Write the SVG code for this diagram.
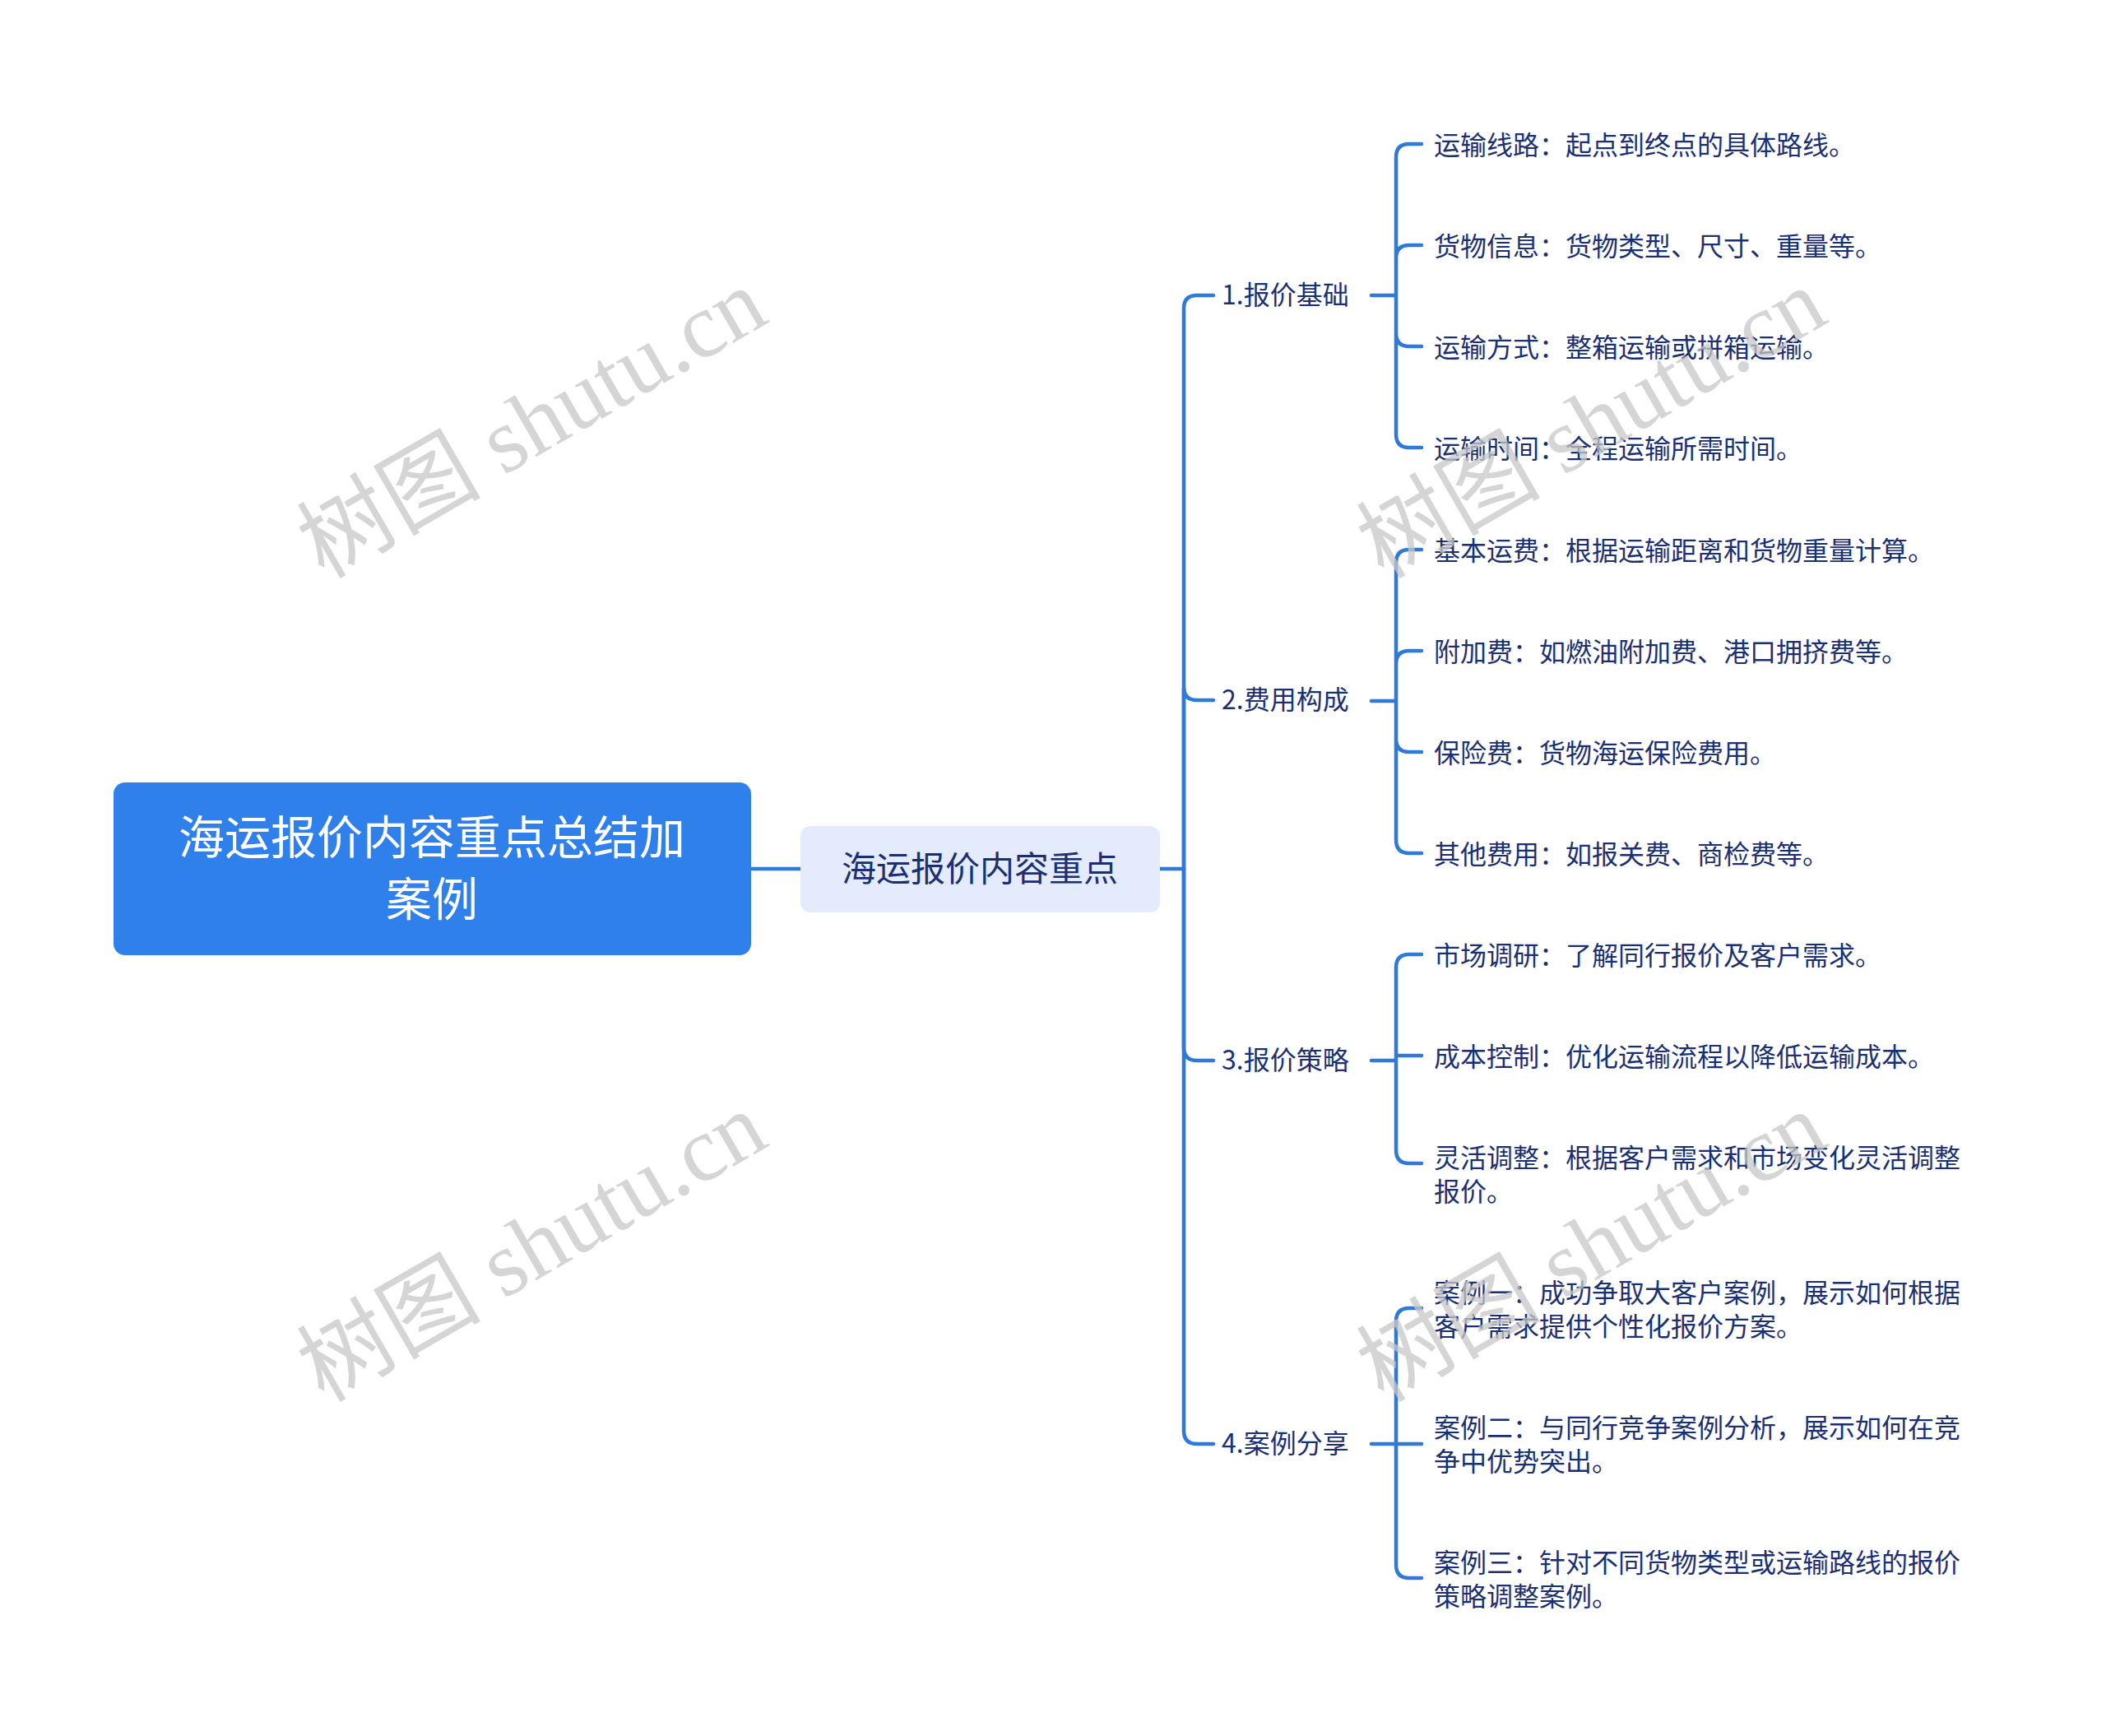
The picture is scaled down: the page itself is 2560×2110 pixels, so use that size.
<svg xmlns="http://www.w3.org/2000/svg" width="2560" height="2110" viewBox="0 0 2560 2110">
<style>
.c{fill:none;stroke:#2f79d9;stroke-width:4.5;stroke-linecap:round}
.t{font-family:"Noto Sans CJK SC","Noto Sans",sans-serif;fill:#1b2f73}
.b{font-size:32px}
.l{font-size:32px}
.w{font-family:"Liberation Serif","Noto Sans CJK SC",serif;font-size:112px;fill:#c8c8c8;opacity:0.75}
</style>
<rect width="2560" height="2110" fill="#fff"/>
<g transform="translate(-3,-2)">
<g id="connectors">
<path class="c" d="M916 1058H976"/>
<path class="c" d="M1413 1058H1442"/>
<path class="c" d="M1442 1058V377Q1442 361 1458 361H1478"/>
<path class="c" d="M1442 1058V837Q1442 853 1458 853H1478"/>
<path class="c" d="M1442 1058V1275Q1442 1291 1458 1291H1478"/>
<path class="c" d="M1442 1058V1741Q1442 1757 1458 1757H1478"/>
<path class="c" d="M1670 361H1700M1700 361V193Q1700 177 1716 177H1731M1700 361V316Q1700 300 1716 300H1731M1700 361V407Q1700 423 1716 423H1731M1700 361V530Q1700 546 1716 546H1731"/>
<path class="c" d="M1670 854H1700M1700 854V686Q1700 670 1716 670H1731M1700 854V809Q1700 793 1716 793H1731M1700 854V900Q1700 916 1716 916H1731M1700 854V1023Q1700 1039 1716 1039H1731"/>
<path class="c" d="M1670 1291H1700M1700 1291V1178Q1700 1162 1716 1162H1731M1700 1291V1285H1731M1700 1291V1400Q1700 1416 1716 1416H1731"/>
<path class="c" d="M1670 1757H1700M1700 1757V1608Q1700 1592 1716 1592H1731M1700 1757H1731M1700 1757V1904Q1700 1920 1716 1920H1731"/>
</g>
<g id="root">
<rect x="141" y="953" width="775" height="210" rx="14" fill="#2f80ea"/>
<text x="528" y="1040" text-anchor="middle" font-family="Noto Sans CJK SC,sans-serif" font-size="56" fill="#fff">海运报价内容重点总结加</text>
<text x="528" y="1115" text-anchor="middle" font-family="Noto Sans CJK SC,sans-serif" font-size="56" fill="#fff">案例</text>
</g>
<g id="sub">
<rect x="976" y="1006" width="437" height="105" rx="12" fill="#e3ebfc"/>
<text x="1194" y="1073" text-anchor="middle" class="t" font-size="42">海运报价内容重点</text>
</g>
<g id="b1"><text x="1488" y="372" class="t b">1.报价基础</text></g>
<g id="b2"><text x="1488" y="864" class="t b">2.费用构成</text></g>
<g id="b3"><text x="1488" y="1302" class="t b">3.报价策略</text></g>
<g id="b4"><text x="1488" y="1768" class="t b">4.案例分享</text></g>
<g id="l1"><text x="1746" y="190" class="t l">运输线路：起点到终点的具体路线。</text></g>
<g id="l2"><text x="1746" y="313" class="t l">货物信息：货物类型、尺寸、重量等。</text></g>
<g id="l3"><text x="1746" y="436" class="t l">运输方式：整箱运输或拼箱运输。</text></g>
<g id="l4"><text x="1746" y="559" class="t l">运输时间：全程运输所需时间。</text></g>
<g id="l5"><text x="1746" y="683" class="t l">基本运费：根据运输距离和货物重量计算。</text></g>
<g id="l6"><text x="1746" y="806" class="t l">附加费：如燃油附加费、港口拥挤费等。</text></g>
<g id="l7"><text x="1746" y="929" class="t l">保险费：货物海运保险费用。</text></g>
<g id="l8"><text x="1746" y="1052" class="t l">其他费用：如报关费、商检费等。</text></g>
<g id="l9"><text x="1746" y="1175" class="t l">市场调研：了解同行报价及客户需求。</text></g>
<g id="l10"><text x="1746" y="1298" class="t l">成本控制：优化运输流程以降低运输成本。</text></g>
<g id="l11"><text x="1746" y="1421" class="t l">灵活调整：根据客户需求和市场变化灵活调整</text><text x="1746" y="1462" class="t l">报价。</text></g>
<g id="l12"><text x="1746" y="1585" class="t l">案例一：成功争取大客户案例，展示如何根据</text><text x="1746" y="1626" class="t l">客户需求提供个性化报价方案。</text></g>
<g id="l13"><text x="1746" y="1749" class="t l">案例二：与同行竞争案例分析，展示如何在竞</text><text x="1746" y="1790" class="t l">争中优势突出。</text></g>
<g id="l14"><text x="1746" y="1913" class="t l">案例三：针对不同货物类型或运输路线的报价</text><text x="1746" y="1954" class="t l">策略调整案例。</text></g>
</g>
<g id="watermarks">
<text class="w" text-anchor="middle" transform="translate(648 517) rotate(-30)" y="35">树图 shutu.cn</text>
<text class="w" text-anchor="middle" transform="translate(1936 517) rotate(-30)" y="35">树图 shutu.cn</text>
<text class="w" text-anchor="middle" transform="translate(648 1518) rotate(-30)" y="35">树图 shutu.cn</text>
<text class="w" text-anchor="middle" transform="translate(1936 1518) rotate(-30)" y="35">树图 shutu.cn</text>
</g>
</svg>
